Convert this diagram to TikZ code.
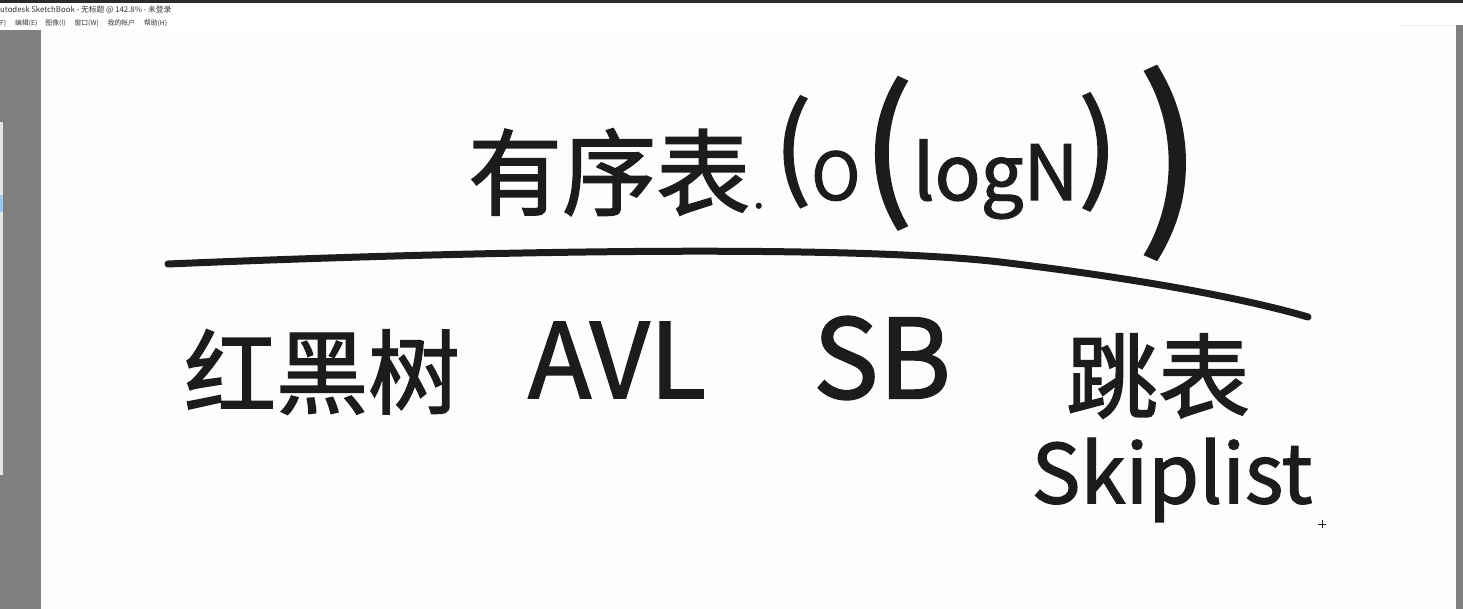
\documentclass[tikz,border=0pt]{standalone}
\usepackage{fontspec}
\newfontfamily\cjk{Noto Sans CJK SC}
\newfontfamily\inkfont[FakeBold=1.6]{Noto Sans CJK SC}
\newcommand{\fsz}[1]{\fontsize{#1}{#1}\selectfont}
\definecolor{ink}{HTML}{1C1C1C}
\definecolor{panelgray}{HTML}{808080}
\definecolor{topbar}{HTML}{2B2B2B}
\definecolor{canvaswhite}{HTML}{FDFDFD}
\definecolor{lightpanel}{HTML}{E6E6E6}
\definecolor{selblue}{HTML}{9CC8F0}
\tikzset{
  ui/.style={inner sep=0pt, anchor=west, text=black!80, font=\cjk\fontsize{7.8}{9}\selectfont},
  hand/.style={inner sep=0pt, text=ink},
  stroke/.style={draw=ink, line width=7pt, line cap=round, line join=round}
}
\begin{document}
\begin{tikzpicture}[x=1pt,y=-1pt]
\useasboundingbox (0,0) rectangle (1463,609);
% chrome
\fill[canvaswhite] (0,0) rectangle (1463,609);
\fill[topbar] (0,0) rectangle (1463,3);
\fill[white] (0,3) rectangle (1463,29);
\fill[panelgray] (0,30) rectangle (41,609);
\fill[lightpanel] (0,122) rectangle (3,475);
\fill[selblue] (0,195) rectangle (3,212);
\fill[panelgray] (1456,25) rectangle (1463,609);
\fill[black!8] (1400,25) rectangle (1456,26);
\node[ui] (titletext) at (0,10) {utodesk SketchBook - 无标题 @ 142.8\% - 未登录};
\node[ui, font=\cjk\fontsize{6.8}{8}\selectfont] (menu) at (0,23) {F)\hspace{9pt}编辑(E)\hspace{8pt}图像(I)\hspace{9pt}窗口(W)\hspace{9pt}我的帐户\hspace{9pt}帮助(H)};
% title
\node[hand, anchor=base west, font=\inkfont\fsz{94}] (title) at (468,208) {有序表\hspace{3pt}{\fsz{40}.}};
\node[hand, anchor=base west, font=\inkfont] (complexity) at (774,200)
  {\raisebox{14pt}{\fsz{110}(}{\fsz{66}O}\hspace{2pt}{\fsz{150}(}{\fsz{76}logN}\raisebox{12pt}{\fsz{116})}\hspace{20pt}\raisebox{-22pt}{\fsz{190})}};
% divider
\coordinate (lstart) at (168,264);
\coordinate (lmid) at (1000,262);
\coordinate (lend) at (1308,317);
\draw[stroke] (lstart) .. controls (500,250) and (850,245) .. (lmid) .. controls (1150,280) and (1250,300) .. (lend);
% items
\node[hand, font=\inkfont\fsz{92}] (rbt) at (322,372) {红黑树};
\node[hand, font=\inkfont\fsz{104}] (avl) at (617,360) {AVL};
\node[hand, font=\inkfont\fsz{110}] (sb) at (882,358) {SB};
\node[hand, font=\inkfont\fsz{92}] (skip) at (1158,376) {跳表};
\node[hand, font=\inkfont\fsz{82}] (skiplist) at (1172,480) {Skiplist};
% cursor
\coordinate (cur) at (1322,524);
\draw[ink, line width=1pt] ([xshift=-4pt]cur) -- ([xshift=4pt]cur) ([yshift=-4pt]cur) -- ([yshift=4pt]cur);
\end{tikzpicture}
\end{document}
